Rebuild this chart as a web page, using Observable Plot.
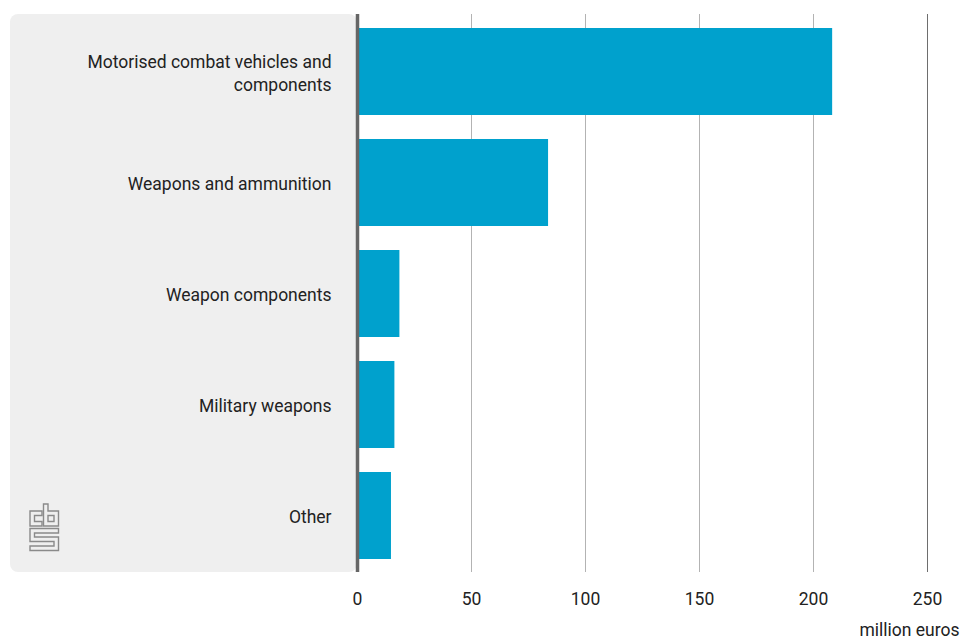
<!DOCTYPE html>
<html>
<head>
<meta charset="utf-8">
<script src="https://cdn.jsdelivr.net/npm/d3@7"></script>
<script src="https://cdn.jsdelivr.net/npm/@observablehq/plot@0.6"></script>
<style>
  html, body { margin: 0; padding: 0; background: #fff; overflow: hidden; }
  #wrap { position: relative; width: 961px; height: 640px; }
  #logo { position: absolute; left: 29px; top: 503px; }
</style>
</head>
<body>
<div id="wrap"></div>
<script>
const categories = [
  "Motorised combat vehicles and components",
  "Weapons and ammunition",
  "Weapon components",
  "Military weapons",
  "Other"
];
const values = [208.4, 83.8, 18.6, 16.4, 14.9];
const xTicks = [0, 50, 100, 150, 200, 250];
const unitLabel = "million euros";

const data = categories.map((c, i) => ({category: c, value: values[i]}));

const fontFamily = "Roboto, 'Noto Sans', sans-serif";
const textColor = "#222";

function panel(index, scales, vals, dims) {
  const r = document.createElementNS("http://www.w3.org/2000/svg", "rect");
  r.setAttribute("x", 10);
  r.setAttribute("y", dims.marginTop);
  r.setAttribute("width", dims.marginLeft - 10);
  r.setAttribute("height", dims.height - dims.marginTop - dims.marginBottom);
  r.setAttribute("rx", 8);
  r.setAttribute("fill", "#efefef");
  return r;
}

const chart = Plot.plot({
  width: 961,
  height: 640,
  marginLeft: 357,
  marginRight: 34,
  marginTop: 14,
  marginBottom: 68,
  style: {fontFamily, fontSize: "17.5px", color: textColor, background: "transparent"},
  x: {domain: [0, 250], axis: null},
  y: {domain: categories, paddingInner: 0.22, paddingOuter: 0.112, axis: null},
  marks: [
    panel,
    Plot.ruleX(xTicks.filter(d => d > 0 && d < 250), {stroke: "#b3b3b3", strokeWidth: 1}),
    Plot.ruleX([250], {stroke: "#6e6e6e", strokeWidth: 1}),
    Plot.barX(data, {y: "category", x: "value", fill: "#00a1cd"}),
    Plot.ruleX([0], {stroke: "#666", strokeWidth: 3.5}),
    Plot.axisY({tickSize: 0, tickPadding: 26, lineWidth: 16, lineHeight: 1.3, fontSize: 17.5, fill: textColor, label: null}),
    Plot.axisX({ticks: xTicks, tickSize: 0, tickPadding: 20, fontSize: 17.5, label: null, fill: textColor}),
    Plot.text([unitLabel], {frameAnchor: "bottom-right", textAnchor: "end", lineAnchor: "top", dx: 32, dy: 51, fontSize: 17.5, fill: textColor, style: "letter-spacing:0.6px"})
  ]
});

const wrap = document.getElementById("wrap");
wrap.appendChild(chart);

// CBS logo decoration (outlined shapes)
const logo = `<svg id="logo" width="32" height="50" viewBox="-1 -1 32 50">
  <g fill="none" stroke="#8a8a8a" stroke-width="1.4" stroke-linejoin="miter">
    <path d="M0,7 H12 V11.5 H4.5 V17.5 H12 V22 H0 Z"/>
    <path d="M13.5,0 H18 V7 H28.5 V22 H13.5 Z"/>
    <path d="M18,11.5 H24 V17.5 H18 Z"/>
    <path d="M0,24.5 H28.5 V29 H4.5 V33 H28.5 V46.5 H0 V42 H24 V37.5 H0 Z"/>
  </g>
</svg>`;
wrap.insertAdjacentHTML("beforeend", logo);
</script>
</body>
</html>
